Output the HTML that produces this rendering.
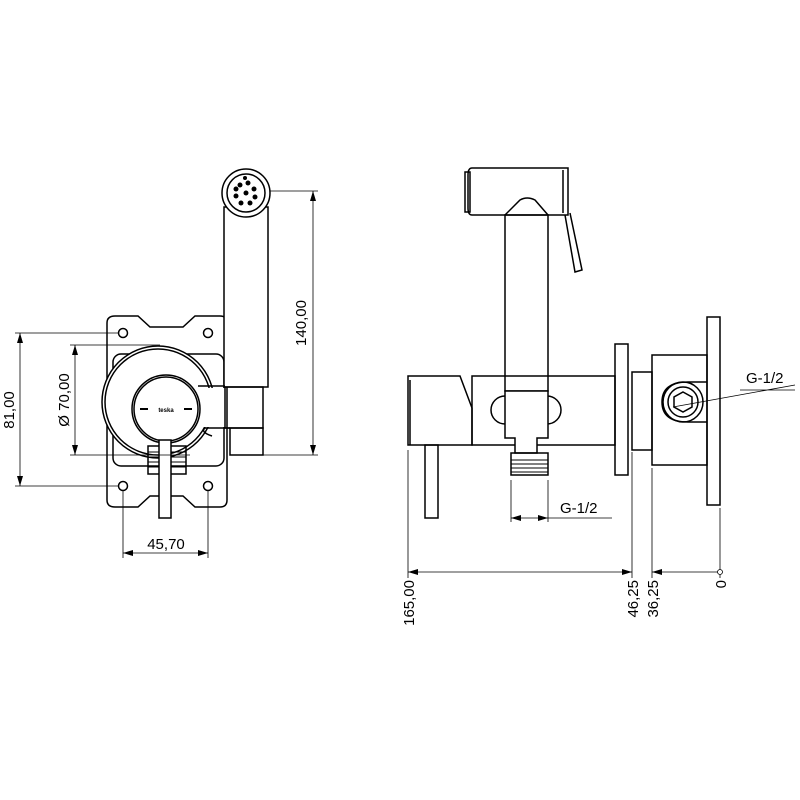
<!DOCTYPE html>
<html><head><style>body{margin:0;background:#fff}svg{display:block}</style></head><body>
<svg width="800" height="800" viewBox="0 0 800 800" xmlns="http://www.w3.org/2000/svg" font-family="Liberation Sans, sans-serif">
<defs>
<marker id="a" viewBox="0 0 10 6" refX="10" refY="3" markerWidth="10" markerHeight="6" orient="auto-start-reverse" markerUnits="userSpaceOnUse"><path d="M0,0L10,3L0,6z" fill="#000"/></marker>
</defs>
<g fill="none" stroke="#000" stroke-width="1.5">
<!-- LEFT VIEW -->
<path d="M115,316 H138 L150,327 H183 L195,316 H220 Q227,316 227,323 V500 Q227,507 220,507 H195 L183,496 H150 L138,507 H115 Q107,507 107,500 V323 Q107,316 115,316 Z"/>
<rect x="113" y="354" width="111" height="112" rx="8"/>
<circle cx="123" cy="333" r="4.5"/><circle cx="208" cy="333" r="4.5"/>
<circle cx="123" cy="486" r="4.5"/><circle cx="208" cy="486" r="4.5"/>
<rect x="224" y="207" width="44" height="180" fill="#fff"/>
<circle cx="246" cy="193" r="24" fill="#fff"/>
<circle cx="246" cy="193" r="19"/>
<g fill="#000" stroke="none">
<circle cx="240" cy="185" r="2.5"/><circle cx="248" cy="183" r="2.5"/><circle cx="254" cy="189" r="2.5"/><circle cx="255" cy="197" r="2.5"/><circle cx="250" cy="203" r="2.5"/><circle cx="241" cy="203" r="2.5"/><circle cx="236" cy="196" r="2.5"/><circle cx="246" cy="193" r="2.5"/><circle cx="236" cy="189" r="2.5"/><circle cx="245" cy="178" r="2"/>
</g>
<circle cx="158" cy="402" r="56" fill="#fff"/>
<circle cx="158" cy="402" r="53"/>
<rect x="200" y="388" width="26" height="39" fill="#fff" stroke="none"/>
<path d="M198,386 H225 M205,428 H230 M205,428 Q200,432 212,436"/>
<rect x="225" y="387" width="38" height="41"/>
<rect x="230" y="428" width="33" height="27"/>
<circle cx="166" cy="409" r="34" fill="#fff"/>
<circle cx="166" cy="409" r="32"/>
<rect x="148" y="446" width="38" height="28"/>
<path d="M148,452H186M148,457H186M148,462H186M148,467H186" stroke-width="1"/>
<rect x="159" y="440" width="12" height="78" fill="#fff"/>
<!-- left dims -->
<g stroke-width="0.8">
<path d="M270,191H318M263,455H318"/>
<path d="M313,191V455" marker-start="url(#a)" marker-end="url(#a)"/>
<path d="M15,333H119M15,486H119"/>
<path d="M20,333V486" marker-start="url(#a)" marker-end="url(#a)"/>
<path d="M70,345H160M70,455H190"/>
<path d="M75,345V455" marker-start="url(#a)" marker-end="url(#a)"/>
<path d="M123,490V558M208,490V558"/>
<path d="M123,553H208" marker-start="url(#a)" marker-end="url(#a)"/>
</g>
<!-- RIGHT VIEW -->
<path d="M472,168 H568 V215 H472 Q468,215 468,208 V175 Q468,168 472,168 Z"/>
<rect x="465" y="172" width="5" height="40"/>
<path d="M563,170V213M565,215L575,272L582,270L570,213"/>
<path d="M505,215 L520,200 Q527,196 535,200 L548,215"/>
<rect x="505" y="215" width="43" height="176"/>
<rect x="472" y="376" width="143" height="69"/>
<path d="M408,376 H460 L472,408 V445 H408 Z"/>
<path d="M410,380V445"/>
<circle cx="505" cy="410" r="14"/><circle cx="547" cy="410" r="14"/>
<path d="M505,391 H548 V438 H537 V453 H515 V438 H505 Z" fill="#fff"/>
<rect x="511" y="453" width="37" height="22"/>
<path d="M511,460H548M511,464H548M511,468H548M511,472H548" stroke-width="1"/>
<rect x="425" y="445" width="13" height="73"/>
<rect x="615" y="344" width="13" height="131"/>
<rect x="632" y="372" width="20" height="78"/>
<path d="M652,355 H707 V465 H652 Z"/>
<rect x="707" y="317" width="13" height="188"/>
<path d="M707,382 H688 Q662,382 662,402 Q662,422 688,422 H707" />
<circle cx="683" cy="402" r="20"/>
<circle cx="683" cy="402" r="15"/>
<polygon points="683,392 692,397 692,407 683,412 674,407 674,397"/>
<!-- right dims -->
<g stroke-width="0.8">
<path d="M673,407L795,385M740,390H795"/>
<path d="M511,480V522M548,480V522"/>
<path d="M511,518H548" marker-start="url(#a)" marker-end="url(#a)"/>
<path d="M548,518H612"/>
<path d="M408,450V578M632,452V578M652,468V578M720,508V578"/>
<path d="M408,572H632" marker-start="url(#a)" marker-end="url(#a)"/>
<path d="M652,572H720" marker-start="url(#a)"/>
<circle cx="720" cy="572" r="2.5" fill="#fff"/>
</g>
</g>
<g font-size="15" fill="#000">
<text transform="translate(306,323) rotate(-90)" text-anchor="middle">140,00</text>
<text transform="translate(14,410) rotate(-90)" text-anchor="middle">81,00</text>
<text transform="translate(69,400) rotate(-90)" text-anchor="middle">Ø 70,00</text>
<text x="166" y="549" text-anchor="middle">45,70</text>
<text x="746" y="383">G-1/2</text>
<text x="560" y="513">G-1/2</text>
<text transform="translate(414,580) rotate(-90)" text-anchor="end">165,00</text>
<text transform="translate(638,580) rotate(-90)" text-anchor="end">46,25</text>
<text transform="translate(658,580) rotate(-90)" text-anchor="end">36,25</text>
<text transform="translate(726,580) rotate(-90)" text-anchor="end">0</text>
<text x="166" y="412" font-size="6" font-weight="bold" text-anchor="middle">teska</text>
</g>
<path d="M140,409H148M184,409H192" stroke="#000" stroke-width="2"/>
</svg>
</body></html>
